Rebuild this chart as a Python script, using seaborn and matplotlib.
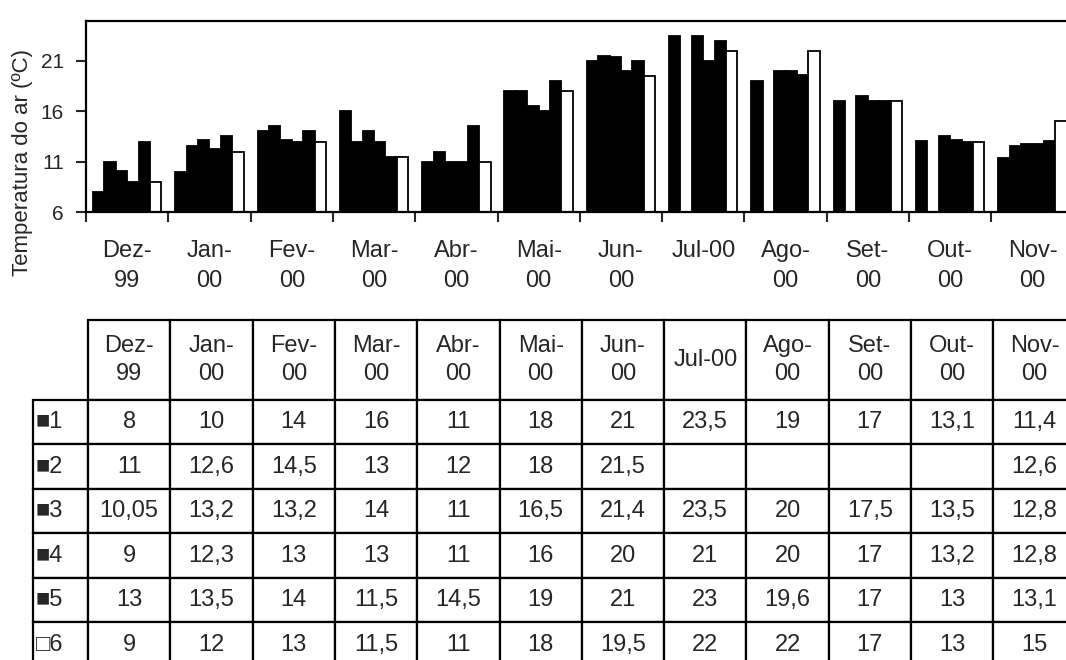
import numpy as np
import pandas as pd
import matplotlib
matplotlib.use("Agg")
import matplotlib.pyplot as plt
import seaborn as sns
from matplotlib.table import Table

# ---------------- data ----------------
months = ["Dez-\n99", "Jan-\n00", "Fev-\n00", "Mar-\n00", "Abr-\n00", "Mai-\n00",
          "Jun-\n00", "Jul-00", "Ago-\n00", "Set-\n00", "Out-\n00", "Nov-\n00"]
series_names = ["1", "2", "3", "4", "5", "6"]
s1 = [8, 10, 14, 16, 11, 18, 21, 23.5, 19, 17, 13.1, 11.4]
s2 = [11, 12.6, 14.5, 13, 12, 18, 21.5, np.nan, np.nan, np.nan, np.nan, 12.6]
s3 = [10.05, 13.2, 13.2, 14, 11, 16.5, 21.4, 23.5, 20, 17.5, 13.5, 12.8]
s4 = [9, 12.3, 13, 13, 11, 16, 20, 21, 20, 17, 13.2, 12.8]
s5 = [13, 13.5, 14, 11.5, 14.5, 19, 21, 23, 19.6, 17, 13, 13.1]
s6 = [9, 12, 13, 11.5, 11, 18, 19.5, 22, 22, 17, 13, 15]
row_markers = ["\u25a0", "\u25a0", "\u25a0", "\u25a0", "\u25a0", "\u25a1"]
yticks = [6, 11, 16, 21]
ylabel = "Temperatura do ar (ºC)"

all_series = [s1, s2, s3, s4, s5, s6]
df = pd.DataFrame({
    "month": months * 6,
    "serie": np.repeat(series_names, len(months)),
    "temp": np.concatenate([np.array(s, dtype=float) for s in all_series]),
})

# ---------------- style ----------------
sns.set_style("ticks")
plt.rcParams["font.family"] = ["Liberation Sans", "DejaVu Sans"]

W, H = 1066, 660
fig = plt.figure(figsize=(W / 100, H / 100), dpi=100)

ax_left = 86
cat_w = 82.3
ax_right = ax_left + 12 * cat_w
ax_top = 20.7
ax_bottom = 212
ax = fig.add_axes([ax_left / W, 1 - ax_bottom / H, (ax_right - ax_left) / W, (ax_bottom - ax_top) / H])

palette = ["black"] * 5 + ["white"]
sns.barplot(data=df, x="month", y="temp", hue="serie", order=months,
            hue_order=series_names, palette=palette, width=0.83, dodge=True,
            edgecolor="black", linewidth=1.3, legend=False, ax=ax, errorbar=None,
            saturation=1)

ax.set_xlim(-0.5, 11.5)
ax.set_ylim(6, 25)
ax.set_yticks(yticks)
ax.tick_params(axis="y", direction="out", length=7, width=1.5, pad=9, labelsize=15)
ax.set_xticks(np.arange(-0.5, 12, 1))
ax.set_xticklabels([])
ax.tick_params(axis="x", which="major", direction="out", length=7, width=1.5)
ax.set_xticks(np.arange(12), labels=months, minor=True)
ax.tick_params(axis="x", which="minor", length=0, pad=20, labelsize=17)
for lbl in ax.get_xticklabels(minor=True):
    lbl.set_linespacing(1.5)
    lbl.set_multialignment("center")
ax.set_xlabel("")
ax.set_ylabel("")
for sp in ax.spines.values():
    sp.set_visible(True)
    sp.set_linewidth(1.6)
    sp.set_color("black")

fig.text(23 / W, 1 - 162 / H, ylabel, rotation=90, ha="center", va="center", fontsize=16)

# ---------------- table ----------------
t_left, t_right, t_top, t_bottom = 33, 88 + 12 * cat_w, 320, 667
ax_t = fig.add_axes([t_left / W, 1 - t_bottom / H, (t_right - t_left) / W, (t_bottom - t_top) / H])
ax_t.axis("off")
tb = Table(ax_t, bbox=[0, 0, 1, 1])
first_w, hdr_h, row_h = 55, 80, 44.5

def fmt(v):
    if np.isnan(v):
        return ""
    return f"{v:g}".replace(".", ",")

c = tb.add_cell(0, 0, first_w, hdr_h, text="", loc="center")
c.visible_edges = ""
for j, m in enumerate(months):
    cell = tb.add_cell(0, j + 1, cat_w, hdr_h, text=m, loc="center")
    cell.get_text().set_linespacing(1.4)
for i, (name, s) in enumerate(zip(series_names, all_series)):
    cell = tb.add_cell(i + 1, 0, first_w, row_h, text=row_markers[i] + name, loc="left")
    cell.PAD = 0.05
    for j, v in enumerate(s):
        tb.add_cell(i + 1, j + 1, cat_w, row_h, text=fmt(float(v)), loc="center")

tb.auto_set_font_size(False)
for (r, col), cell in tb.get_celld().items():
    cell.set_linewidth(1.6)
    cell.set_edgecolor("black")
    cell.get_text().set_fontsize(17)
ax_t.add_table(tb)

fig.savefig("out.png", dpi=100)
